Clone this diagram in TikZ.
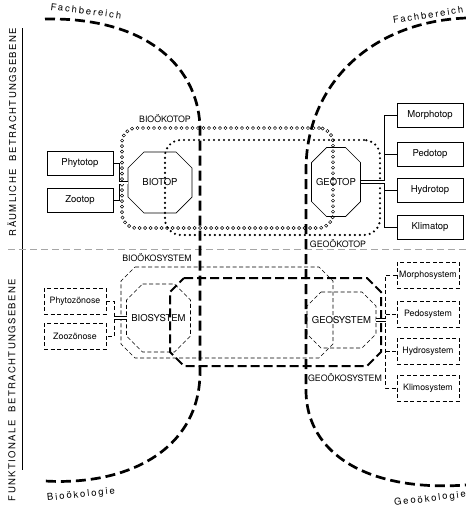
\documentclass[tikz,border=0pt]{standalone}
\usepackage{fontspec}
\setmainfont{TeX Gyre Heros}
\newfontfamily\sidefont{TeX Gyre Heros}[LetterSpace=15]
\newfontfamily\fachfont{TeX Gyre Heros}[LetterSpace=20]

\newcommand\okteck[3][]{%
  \draw[#1] ([xshift=#3]#2.north west) -- ([xshift=-#3]#2.north east) -- ([yshift=-#3]#2.north east)
    -- ([yshift=#3]#2.south east) -- ([xshift=-#3]#2.south east) -- ([xshift=#3]#2.south west)
    -- ([yshift=#3]#2.south west) -- ([yshift=-#3]#2.north west) -- cycle;}

\tikzset{
  box/.style={draw, line width=0.7pt, minimum width=66pt, minimum height=24pt, inner sep=1pt, font=\fontsize{9.5}{11}\selectfont},
  dbox/.style={box, line width=0.65pt, dash pattern=on 4pt off 2.5pt, minimum width=62pt, minimum height=26pt, font=\fontsize{8.8}{10}\selectfont},
  okt/.style={rectangle, inner sep=0pt, outer sep=0pt, font=\fontsize{9.5}{11}\selectfont},
  okline/.style={line width=0.7pt},
  dokline/.style={line width=0.65pt, dash pattern=on 4pt off 2.5pt},
  lab/.style={inner sep=1pt, font=\fontsize{8.8}{10}\selectfont},
  ring/.style={draw, rounded corners=14pt, line width=3.9pt, line cap=round, dash pattern=on 0pt off 5.5pt,
    postaction={draw=white, line width=2.0pt, line cap=round, dash pattern=on 0pt off 5.5pt}},
  punkt/.style={draw, rounded corners=16pt, line width=2.4pt, line cap=round, dash pattern=on 0pt off 5pt},
  fach/.style={line width=2.7pt, dash pattern=on 10pt off 5pt},
  dbl/.style={double, double distance=2pt, line width=0.6pt},
  dlin/.style={line width=0.65pt, dash pattern=on 4pt off 2.5pt}
}

\begin{document}
\begin{tikzpicture}[x=1pt,y=-1pt]
\useasboundingbox (0,0) rectangle (466,509);

\draw[line width=0.8pt] (22,28) -- (22,470);
\draw[gray!70, line width=0.8pt, dash pattern=on 7pt off 4pt] (8,249) -- (466,249);
\node[rotate=90, font=\sidefont\fontsize{9.5}{11}\selectfont] (raum) at (12,132) {RÄUMLICHE\ \ BETRACHTUNGSEBENE};
\node[rotate=90, font=\sidefont\fontsize{9.5}{11}\selectfont] (funk) at (12,390) {FUNKTIONALE\ \ BETRACHTUNGSEBENE};

% raeumliche Ebene
\node[ring, minimum width=211pt, minimum height=100pt] (bioeko) at (227.5,178) {};
\node[punkt, minimum width=215pt, minimum height=95pt] (geoeko) at (272.5,187.5) {};
\node[lab] (lbioeko) at (165,119) {BIOÖKOTOP};
\node[lab] (lgeoeko) at (338,244) {GEOÖKOTOP};

\node[box] (phyto) at (80,163.5) {Phytotop};
\node[box] (zoo) at (80,200) {Zootop};
\node[okt, minimum width=64pt, minimum height=61pt] (bt) at (160,182.5) {BIOTOP};
\okteck[okline]{bt}{16pt}
\node[okt, minimum width=49pt, minimum height=69pt] (gt) at (336,182) {GEOTOP};
\okteck[okline]{gt}{15pt}
\node[box] (morph) at (430,115.5) {Morphotop};
\node[box] (pedo) at (430,154.5) {Pedotop};
\node[box] (hydro) at (430,190.5) {Hydrotop};
\node[box] (klima) at (430,227.5) {Klimatop};

\path (phyto.east) ++(6,0) coordinate (kl);
\draw[line width=0.7pt] (phyto.east) -- (kl) |- (zoo.east);
\draw[dbl] (kl |- bt.west) -- (bt.west);
\path (morph.west) ++(-12,0) coordinate (kr);
\draw[line width=0.7pt] (morph.west) -- (kr) |- (klima.west);
\draw[line width=0.7pt] (kr |- pedo.west) -- (pedo.west);
\draw[line width=0.7pt] (kr |- hydro.west) -- (hydro.west);
\draw[dbl] (gt.east) -- (kr |- gt.east);

% funktionale Ebene
\node[okt, minimum width=212pt, minimum height=91pt] (biosys) at (227,312.5) {};
\okteck[dokline]{biosys}{14pt}
\node[okt, minimum width=211pt, minimum height=88pt] (geosys) at (275.5,322) {};
\okteck[line width=2pt, dash pattern=on 9pt off 4pt]{geosys}{14pt}
\node[lab] (lbiosys) at (157,258) {BIOÖKOSYSTEM};
\node[lab] (lgeosys) at (345,378) {GEOÖKOSYSTEM};

\node[dbox] (phyz) at (75,301) {Phytozönose};
\node[dbox] (zooz) at (75,336) {Zoozönose};
\node[okt, minimum width=64pt, minimum height=68pt] (bs) at (158.5,318) {BIOSYSTEM};
\okteck[dokline]{bs}{16pt}
\node[okt, minimum width=69pt, minimum height=56pt] (gs) at (341.5,320) {GEOSYSTEM};
\okteck[dokline]{gs}{14pt}
\node[dbox] (morphs) at (428,275) {Morphosystem};
\node[dbox] (pedos) at (428,314) {Pedosystem};
\node[dbox] (hydros) at (428,351) {Hydrosystem};
\node[dbox] (klimas) at (428,388) {Klimosystem};

\path (phyz.east) ++(8,0) coordinate (kbl);
\draw[dlin] (phyz.east) -- (kbl) |- (zooz.east);
\draw[dbl] (kbl |- bs.west) -- (bs.west);
\path (morphs.west) ++(-11,0) coordinate (kbr);
\draw[dlin] (morphs.west) -- (kbr) |- (klimas.west);
\draw[dlin] (kbr |- pedos.west) -- (pedos.west);
\draw[dlin] (kbr |- hydros.west) -- (hydros.west);
\draw[dbl] (gs.east) -- (kbr |- gs.east);

% Fachbereiche
\coordinate (fl1) at (45,19);
\coordinate (fl2) at (200,130);
\coordinate (fl3) at (200,372);
\coordinate (fl4) at (45,481);
\coordinate (fr1) at (466,18);
\coordinate (fr2) at (306,170);
\coordinate (fr3) at (306,390);
\coordinate (fr4) at (466,485);
\draw[fach] (fl1) .. controls (150,17) and (200,70) .. (fl2) -- (fl3) .. controls (200,448) and (130,486) .. (fl4);
\draw[fach] (fr1) .. controls (370,22) and (306,85) .. (fr2) -- (fr3) .. controls (306,455) and (370,492) .. (fr4);
\node[rotate=-7, font=\fachfont\fontsize{9.5}{10}\selectfont] (fachl) at (86,11) {Fachbereich};
\node[rotate=9, font=\fachfont\fontsize{9.5}{10}\selectfont] (fachr) at (428,15) {Fachbereich};
\node[rotate=6, font=\fachfont\fontsize{9.5}{10}\selectfont] (bioek) at (81,495) {Bioökologie};
\node[rotate=7, font=\fachfont\fontsize{9.5}{10}\selectfont] (geoek) at (430,499) {Geoökologie};
\end{tikzpicture}
\end{document}
